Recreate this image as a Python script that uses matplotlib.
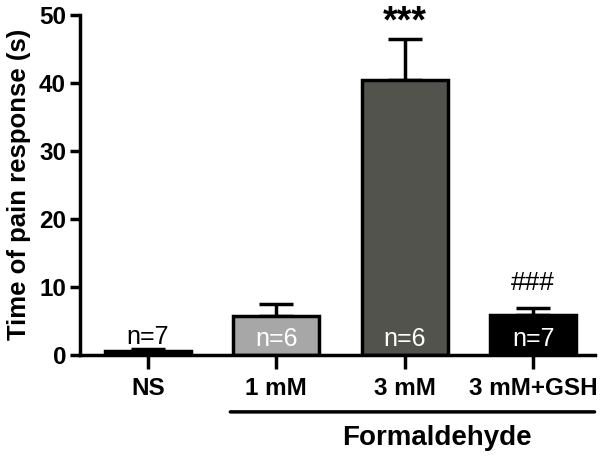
import numpy as np
from matplotlib import pyplot as plt

groups = ["NS", "1 mM", "3 mM", "3 mM+GSH"]
means = [0.5, 5.7, 40.4, 5.9]
sems = [0.35, 1.7, 6.1, 0.95]
n_labels = ["n=7", "n=6", "n=6", "n=7"]
signif = ["", "", "***", "###"]
colors = ["black", "#a7a7a7", "#53534e", "black"]

plt.rcParams['font.family'] = ['Liberation Sans', 'DejaVu Sans']

fig = plt.figure(figsize=(6.1, 4.65), dpi=100)
ax = fig.add_axes([0.131, 0.237, 0.844, 0.731])

x = np.arange(len(groups))
ax.bar(x, means, width=0.67, color=colors, edgecolor="black", linewidth=2.5, zorder=2)
ax.errorbar(x, means, yerr=[np.zeros(len(sems)), sems], fmt="none", ecolor="black",
            elinewidth=2.5, capsize=12, capthick=2.5, zorder=1)

# n labels
for i, lab in enumerate(n_labels):
    if i == 0:
        ax.text(x[i], means[i] + 0.3, lab, ha="center", va="bottom", fontsize=18, color="black")
    else:
        ax.text(x[i], 0.5, lab, ha="center", va="bottom", fontsize=18, color="white")

# asterisks sit high in the em box, so anchor on the baseline
ax.text(x[2], 47.4, signif[2], ha="center", va="baseline", fontsize=27,
        fontweight="bold", color="black", clip_on=False)
ax.text(x[3], means[3] + sems[3] + 1.9, signif[3], ha="center", va="bottom", fontsize=19,
        color="black")

ax.set_xlim(-0.53, 3.48)
ax.set_ylim(0, 50)
ax.set_yticks([0, 10, 20, 30, 40, 50])
ax.set_xticks(x)
ax.set_xticklabels(groups, fontsize=17.5, fontweight="bold")
for t in ax.get_yticklabels():
    t.set_fontsize(17.5)
    t.set_fontweight("bold")
ax.tick_params(axis="both", width=2.5, length=7, direction="out", pad=3)
ax.tick_params(axis="x", length=10, pad=6)
ax.set_ylabel("Time of pain response (s)", fontsize=18.5, fontweight="bold", labelpad=6)

for side in ["top", "right"]:
    ax.spines[side].set_visible(False)
for side in ["left", "bottom"]:
    ax.spines[side].set_linewidth(2.5)

# Formaldehyde bracket
ax.annotate("", xy=(0.62, -8.4), xytext=(3.5, -8.4), xycoords="data",
            arrowprops=dict(arrowstyle="-", lw=2.5, color="black"), annotation_clip=False)
ax.text(2.25, -12.3, "Formaldehyde", ha="center", va="center", fontsize=20,
        fontweight="bold", clip_on=False)

fig.savefig("out.png", dpi=100)
